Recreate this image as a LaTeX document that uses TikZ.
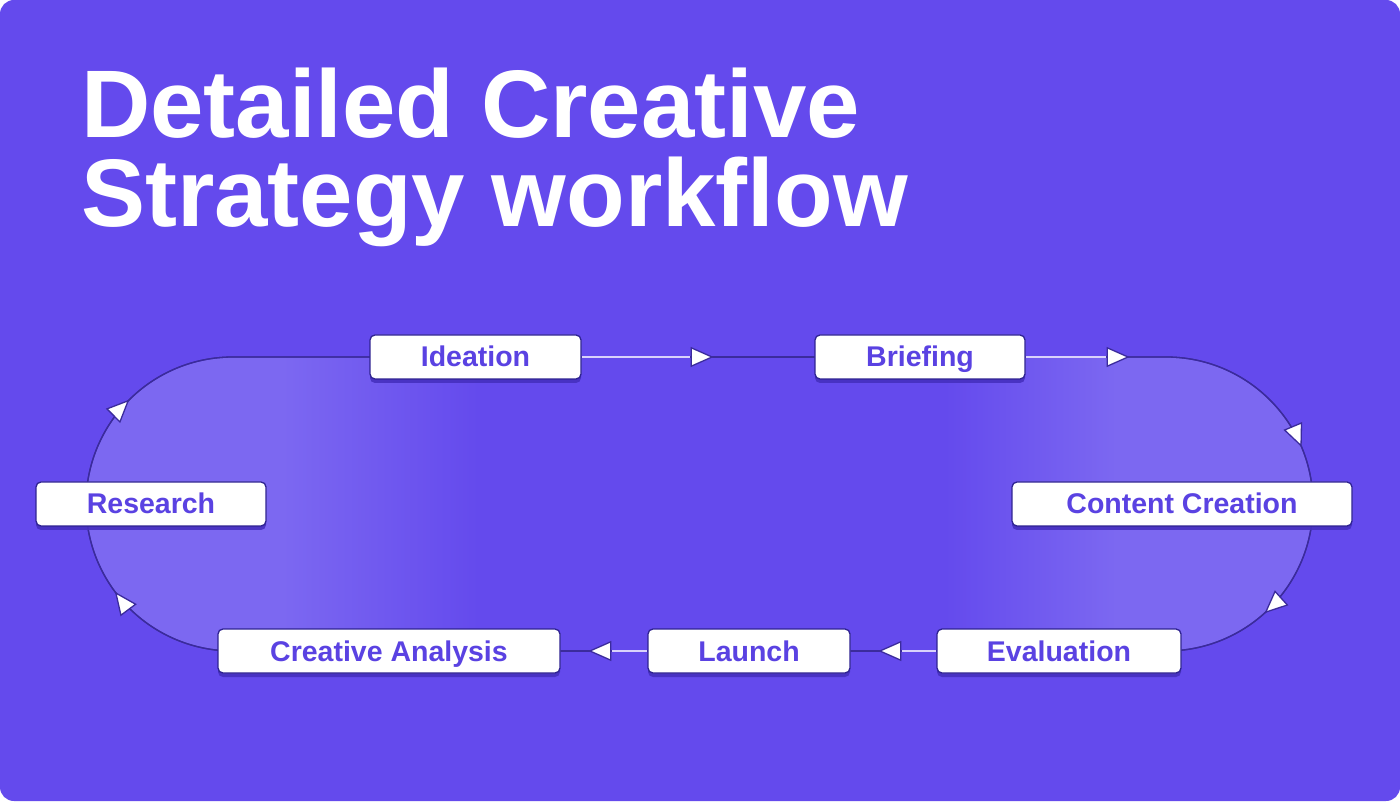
\documentclass[tikz,border=0pt]{standalone}
\usepackage{fontspec}
\setmainfont{Liberation Sans}
\usetikzlibrary{arrows.meta,positioning,shadows,decorations.markings,backgrounds}
\definecolor{canvas}{HTML}{644AED}
\definecolor{trackfill}{HTML}{7C68F1}
\definecolor{trackline}{HTML}{3B2B9C}
\definecolor{boxline}{HTML}{2F2391}
\definecolor{boxtext}{HTML}{5A42E2}
\definecolor{boxshadow}{HTML}{4630BF}
\definecolor{glowline}{HTML}{D9D2FB}
\pgfdeclarehorizontalshading{trackfade}{100bp}{color(0bp)=(trackfill); color(25bp)=(trackfill); color(33bp)=(trackfill); color(41bp)=(canvas); color(60bp)=(canvas); color(67bp)=(trackfill); color(75bp)=(trackfill); color(100bp)=(trackfill)}
\newcommand\titlefont{\fontsize{96}{96}\selectfont\bfseries}
\tikzset{
  stepnode/.style={draw=boxline,line width=1.3pt,fill=white,rounded corners=5pt,minimum height=44pt,inner sep=0pt,text height=24pt,text depth=4pt,text=boxtext,font=\fontsize{28.5}{30}\selectfont\bfseries,drop shadow={shadow xshift=0pt,shadow yshift=-4pt,fill=boxshadow,opacity=.9}},
  edge/.style={draw=trackline,line width=1.3pt},
  glow/.style={draw=glowline,line width=2.2pt},
  tipat/.style={postaction={decorate,decoration={markings,mark=at position #1 with {\arrow{Triangle[length=23pt,width=20pt,fill=white,color=trackline]}}}}}
}
\begin{document}
\begin{tikzpicture}[x=1pt,y=1pt]
\useasboundingbox (0,0) rectangle (1400,801);
% title
\node (title1) [anchor=base west,inner sep=0pt,text=white,font=\titlefont] at (81,663) {Detailed Creative};
\node (title2) [anchor=base west,inner sep=0pt,text=white,font=\titlefont] at (81,574) {Strategy workflow};
% steps
\node (research) [stepnode,minimum width=230pt] at (151,297) {Research};
\node (ideation) [stepnode,minimum width=211pt] at (475.5,444) {Ideation};
\node (briefing) [stepnode,minimum width=210pt] at (920,444) {Briefing};
\node (content) [stepnode,minimum width=340pt] at (1182,297) {Content Creation};
\node (evaluation) [stepnode,minimum width=244pt] at (1059,150) {Evaluation};
\node (launch) [stepnode,minimum width=202pt] at (749,150) {Launch};
\node (analysis) [stepnode,minimum width=342pt] at (389,150) {Creative Analysis};
%
\coordinate (trkW) at (86,297);
\coordinate (trkNW) at (233,444);
\coordinate (trkNE) at (1166,444);
\coordinate (trkE) at (1313,297);
\coordinate (trkSE) at (1166,150);
\coordinate (trkSW) at (233,150);
\coordinate (glowIB) at (690,444);
\coordinate (glowBC) at (1106,444);
\coordinate (glowEL) at (902,150);
\coordinate (glowLA) at (612,150);
%
\begin{scope}[on background layer]
\fill[white] (0,0) rectangle (1400,801);
\fill[canvas,rounded corners=14pt] (0,0) rectangle (1400,801);
\shadedraw[shading=trackfade,draw=trackline,line width=1.3pt,rounded corners=147pt] (86,150) rectangle (1313,444);
\draw[edge,tipat=116pt] (trkW) to[out=90,in=180] (trkNW) -- (ideation);
\draw[edge,tipat=132pt] (ideation) -- (briefing);
\draw[glow] (ideation) -- (glowIB);
\draw[edge,tipat=104pt,tipat=313pt] (briefing) -- (trkNE) to[out=0,in=90] (trkE);
\draw[glow] (briefing) -- (glowBC);
\draw[edge,tipat=123pt] (trkE) to[out=-90,in=0] (trkSE);
\draw[edge,tipat=58pt] (evaluation) -- (launch);
\draw[glow] (evaluation) -- (glowEL);
\draw[edge,tipat=59pt] (launch) -- (analysis);
\draw[glow] (launch) -- (glowLA);
\draw[edge,tipat=137pt] (trkSW) to[out=180,in=-90] (trkW);
\end{scope}
\end{tikzpicture}
\end{document}
